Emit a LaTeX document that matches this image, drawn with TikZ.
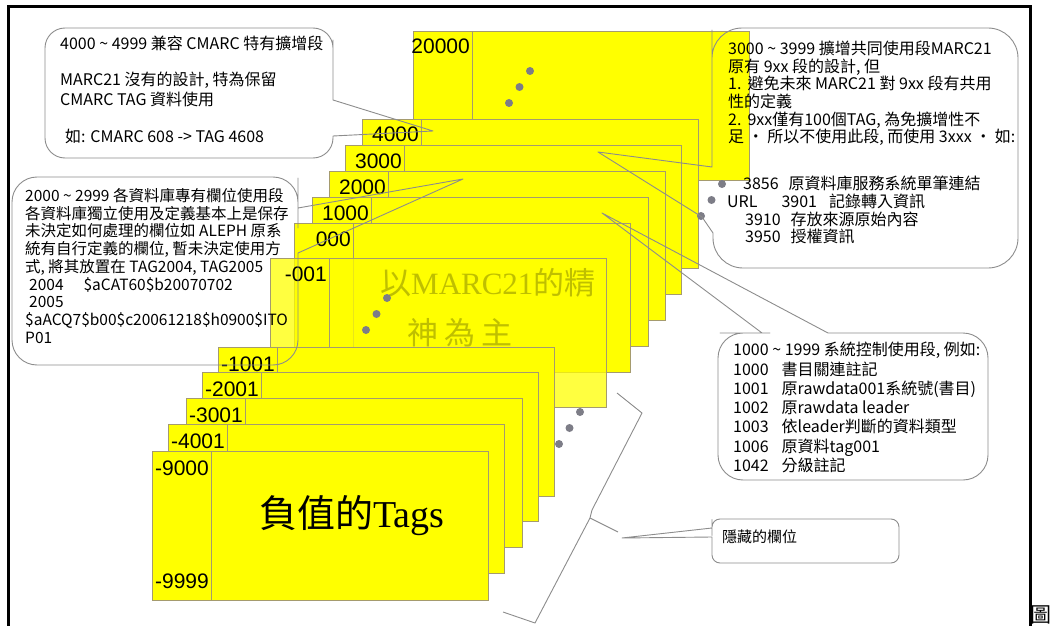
\documentclass[tikz,border=0pt]{standalone}
\usepackage{fontspec}
\setmainfont{Noto Sans CJK TC}
\newfontfamily\arialfont{Liberation Sans}
\newfontfamily\timesfont{Liberation Serif}
\definecolor{cardyellow}{RGB}{255,255,0}
\definecolor{cardedge}{RGB}{165,155,110}
\definecolor{bubbleedge}{RGB}{140,140,140}
\definecolor{dotgray}{RGB}{125,125,135}

\begin{document}
\begin{tikzpicture}[
    x=1pt, y=-1pt,
    card/.style={rectangle, draw=cardedge, fill=cardyellow, line width=0.8pt, minimum width=336pt, minimum height=149pt, inner sep=0pt, outer sep=0pt, anchor=north west},
    divider/.style={draw=cardedge, line width=0.8pt},
    cardlabel/.style={font=\arialfont\fontsize{21}{24}\selectfont, inner sep=0pt, anchor=base east},
    ghosttext/.style={font=\fontsize{31}{50}\selectfont, align=left, inner sep=0pt, anchor=north west},
    bubble/.style={draw=bubbleedge, line width=0.9pt, line join=round},
    bracket/.style={draw=bubbleedge, line width=0.9pt, line join=round},
    note/.style={align=left, inner sep=0pt, anchor=north west, font=\fontsize{16}{19.3}\selectfont},
    gapdot/.style={circle, fill=dotgray, inner sep=0pt, minimum size=8pt}
  ]
  \useasboundingbox (0,0) rectangle (1053,626);

  \foreach \nm/\px/\py/\lab in {c20000/413/31/20000, c4000/362/119/4000, c3000/345/145/3000, c2000/329/171/2000, c1000/312/197/1000, c000/294/223/000}{
    \node[card] (\nm) at (\px,\py) {};
    \draw[divider] ([xshift=59pt]\nm.north west) -- ([xshift=59pt]\nm.south west);
    \node[cardlabel] (\nm-t) at ([xshift=57pt,yshift=-23pt]\nm.north west) {\lab};
  }

  \node[ghosttext] (spirit-txt) at (380,268) {以{\timesfont MARC21}的精\\\hspace*{27pt}神\hspace{6pt}為\hspace{6pt}主};
  \node[card, fill opacity=0.75] (cm001) at (270,258) {};
  \draw[divider] ([xshift=59pt]cm001.north west) -- ([xshift=59pt]cm001.south west);
  \node[cardlabel] (cm001-t) at ([xshift=57pt,yshift=-23pt]cm001.north west) {-001};

  \foreach \nm/\px/\py/\lab in {cm1001/218/347/-1001, cm2001/202/372/-2001, cm3001/186/398/-3001, cm4001/168/424/-4001, cm9000/152/451/-9000}{
    \node[card] (\nm) at (\px,\py) {};
    \draw[divider] ([xshift=59pt]\nm.north west) -- ([xshift=59pt]\nm.south west);
    \node[cardlabel] (\nm-t) at ([xshift=57pt,yshift=-24pt]\nm.north west) {\lab};
  }
  \node[cardlabel] (cm9999-t) at ([xshift=57pt,yshift=-137pt]cm9000.north west) {-9999};
  \node[font=\fontsize{38}{40}\selectfont, inner sep=0pt, anchor=base] (negtags) at ([xshift=200pt,yshift=-76pt]cm9000.north west) {負值的{\timesfont Tags}};

  \foreach \g/\dx/\dy in {a/530/71, b/387/298, c/580/412, d/722/184}
    \foreach \k/\ox/\oy in {1/0/0, 2/-10.5/16, 3/-21/32}
      \node[gapdot] (dot\g\k) at (\dx+\ox,\dy+\oy) {};

  \coordinate (tip4000) at (433,131);
  \coordinate (tip3000) at (598,152);
  \coordinate (tip2000) at (463,179);
  \coordinate (tip1000) at (602,213);
  \coordinate (tiphid) at (622,538);

  \draw[bubble] (190,28) [rounded corners=20pt] -- (333,28) -- (333,60) [sharp corners] -- (333,100) -- (tip4000) -- (333,136) -- (333,137) [rounded corners=20pt] -- (333,158) -- (45,158) -- (45,28) -- cycle;
  \draw[bubble] (150,177) [rounded corners=25pt] -- (298,177) -- (298,203) [sharp corners] -- (298,208) -- (tip2000) -- (298,253) -- (298,254) [rounded corners=25pt] -- (298,365) -- (12,365) -- (12,177) -- cycle;
  \draw[bubble] (860,28) [rounded corners=30pt] -- (712,28) -- (712,60) [sharp corners] -- (712,167) -- (tip3000) -- (702,217) -- (713,233) -- (713,234) [rounded corners=30pt] -- (713,268) -- (1018,268) -- (1018,28) -- cycle;
  \draw[bubble] (900,333) [rounded corners=25pt] -- (988,333) -- (988,480) -- (718,480) -- (718,333) -- (745,333) [sharp corners] -- (762,333) -- (tip1000) -- (828,333) -- (850,333) [rounded corners=25pt] -- cycle;
  \draw[bubble] (800,519) [rounded corners=8pt] -- (712,519) -- (712,527.5) [sharp corners] -- (712,528) -- (tiphid) -- (712,537) -- (712,537.5) [rounded corners=8pt] -- (712,563) -- (899,563) -- (899,519) -- cycle;

  \draw[bracket] (617,393) -- (642,413) -- (592,510) -- (590,518) -- (618,532);
  \draw[bracket] (590,518) -- (535,623) -- (503,612);

  \node[note, font=\fontsize{16}{20}\selectfont] (b4000-txt) at (60,36) {4000 \textasciitilde{} 4999 兼容 CMARC 特有擴增段\\[16pt]MARC21 沒有的設計, 特為保留\\CMARC TAG 資料使用\\[17pt]\hspace*{5pt}如: CMARC 608 -> TAG 4608};
  \node[note, font=\fontsize{15.5}{17.75}\selectfont] (b2000-txt) at (25,188) {2000 \textasciitilde{} 2999 各資料庫專有欄位使用段\\各資料庫獨立使用及定義基本上是保存\\未決定如何處理的欄位如 ALEPH 原系\\統有自行定義的欄位, 暫未決定使用方\\式, 將其放置在 TAG2004, TAG2005\\\hspace*{4pt}2004\hspace{20pt}\$aCAT60\$b20070702\\\hspace*{4pt}2005\\\$aACQ7\$b00\$c20061218\$h0900\$ITO\\P01};
  \node[note, font=\fontsize{16}{17.6}\selectfont] (b3000-txt) at (728,41) {3000 \textasciitilde{} 3999 擴增共同使用段MARC21\\原有 9xx 段的設計, 但\\1.\hspace{6pt}避免未來 MARC21 對 9xx 段有共用\\性的定義\\2.\hspace{6pt}9xx僅有100個TAG, 為免擴增性不\\足 • 所以不使用此段, 而使用 3xxx • 如:};
  \node[note, font=\fontsize{16}{17.7}\selectfont] (b3000-list) at (727,176) {\hspace*{16pt}3856\hspace{10pt}原資料庫服務系統單筆連結\\URL\hspace{24pt}3901\hspace{12pt}記錄轉入資訊\\\hspace*{18pt}3910\hspace{10pt}存放來源原始內容\\\hspace*{18pt}3950\hspace{10pt}授權資訊};
  \node[note, font=\fontsize{16}{19.3}\selectfont] (b1000-txt) at (733,342) {1000 \textasciitilde{} 1999 系統控制使用段, 例如:\\1000\hspace{13pt}書目關連註記\\1001\hspace{13pt}原rawdata001系統號(書目)\\1002\hspace{13pt}原rawdata leader\\1003\hspace{13pt}依leader判斷的資料類型\\1006\hspace{13pt}原資料tag001\\1042\hspace{13pt}分級註記};
  \node[note, font=\fontsize{15}{18}\selectfont] (bhid-txt) at (722,530) {隱藏的欄位};

  \draw[line width=3pt] (8,650) -- (8,7) -- (1030,7) -- (1030,650);
  \node[font=\fontsize{21}{24}\selectfont, inner sep=0pt] (figmark) at (1041,615) {圖};
\end{tikzpicture}
\end{document}
